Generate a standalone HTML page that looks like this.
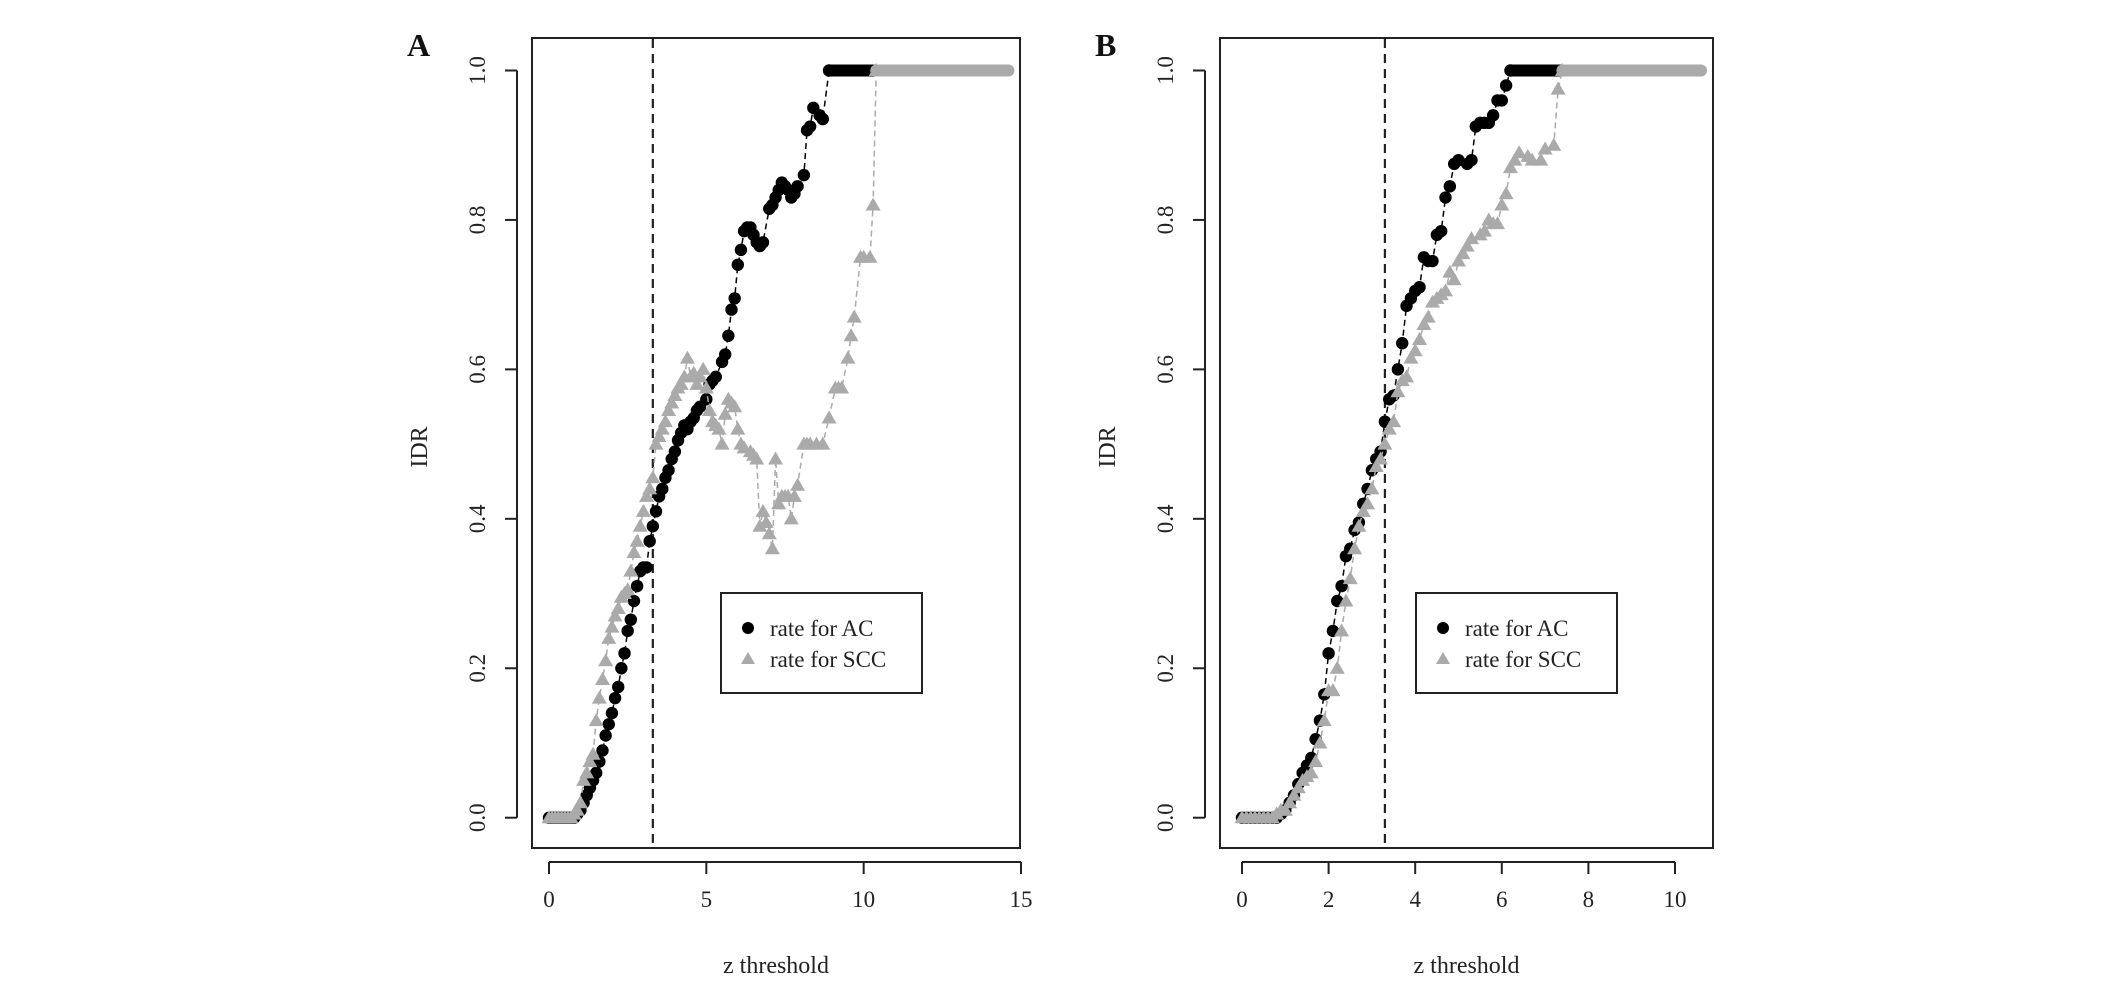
<!DOCTYPE html>
<html><head><meta charset="utf-8"><style>
html,body{margin:0;padding:0;background:#fff;}
svg{display:block;font-family:"Liberation Serif",serif;}
</style></head><body>
<svg id="c" width="2126" height="981" viewBox="0 0 2126 981"></svg>
<script>
const zA_AC=[0,0.1,0.2,0.3,0.4,0.5,0.6,0.7,0.8,0.9,1.0,1.1,1.2,1.3,1.4,1.5,1.6,1.7,1.8,1.9,2.0,2.1,2.2,2.3,2.4,2.5,2.6,2.7,2.8,2.9,3.0,3.1,3.2,3.3,3.4,3.5,3.6,3.7,3.8,3.9,4.0,4.1,4.2,4.3,4.4,4.5,4.6,4.7,4.8,5.0,5.1,5.2,5.3,5.5,5.6,5.7,5.8,5.9,6.0,6.1,6.2,6.3,6.4,6.5,6.6,6.7,6.8,7.0,7.1,7.2,7.3,7.4,7.5,7.6,7.7,7.8,7.9,8.1,8.2,8.3,8.4,8.6,8.7,8.9];
const yA_AC=[0,0,0,0,0,0,0,0,0,0.005,0.01,0.02,0.03,0.04,0.05,0.06,0.075,0.09,0.11,0.125,0.14,0.16,0.175,0.2,0.22,0.25,0.265,0.29,0.31,0.33,0.335,0.335,0.37,0.39,0.41,0.43,0.44,0.455,0.465,0.48,0.49,0.505,0.515,0.525,0.52,0.53,0.535,0.545,0.55,0.56,0.58,0.585,0.59,0.61,0.62,0.645,0.68,0.695,0.74,0.76,0.785,0.79,0.79,0.78,0.77,0.765,0.77,0.815,0.82,0.83,0.84,0.85,0.845,0.84,0.83,0.835,0.845,0.86,0.92,0.925,0.95,0.94,0.935,1.0];
const zA_SCC=[0,0.1,0.2,0.3,0.4,0.5,0.6,0.7,0.8,0.9,1.0,1.1,1.2,1.3,1.4,1.5,1.6,1.7,1.8,1.9,2.0,2.1,2.2,2.3,2.4,2.5,2.6,2.7,2.8,2.9,3.0,3.1,3.2,3.3,3.4,3.5,3.6,3.7,3.8,3.9,4.0,4.1,4.2,4.3,4.4,4.5,4.6,4.7,4.8,4.9,5.0,5.1,5.2,5.3,5.4,5.5,5.6,5.7,5.8,5.9,6.0,6.1,6.2,6.4,6.5,6.6,6.7,6.8,6.9,7.0,7.1,7.2,7.3,7.4,7.5,7.6,7.7,7.8,7.9,8.1,8.2,8.3,8.5,8.7,8.9,9.1,9.2,9.3,9.5,9.6,9.7,9.9,10.0,10.2,10.3,10.4];
const yA_SCC=[0,0,0,0,0,0,0,0,0.005,0.01,0.02,0.05,0.06,0.075,0.085,0.13,0.16,0.185,0.21,0.24,0.255,0.27,0.28,0.295,0.3,0.305,0.33,0.355,0.37,0.39,0.41,0.43,0.44,0.455,0.5,0.51,0.52,0.53,0.545,0.555,0.565,0.575,0.58,0.59,0.615,0.59,0.595,0.58,0.59,0.6,0.575,0.545,0.53,0.525,0.52,0.5,0.54,0.56,0.555,0.55,0.52,0.5,0.495,0.49,0.485,0.48,0.39,0.41,0.395,0.38,0.36,0.48,0.42,0.43,0.43,0.43,0.4,0.43,0.445,0.5,0.5,0.5,0.5,0.5,0.535,0.575,0.575,0.575,0.615,0.645,0.67,0.75,0.75,0.75,0.82,1.0];
const zB_AC=[0,0.1,0.2,0.3,0.4,0.5,0.6,0.7,0.8,0.9,1.0,1.1,1.2,1.3,1.4,1.5,1.6,1.7,1.8,1.9,2.0,2.1,2.2,2.3,2.4,2.5,2.6,2.7,2.8,2.9,3.0,3.1,3.2,3.3,3.4,3.5,3.6,3.7,3.8,3.9,4.0,4.1,4.2,4.3,4.4,4.5,4.6,4.7,4.8,4.9,5.0,5.2,5.3,5.4,5.5,5.6,5.7,5.8,5.9,6.0,6.1,6.2];
const yB_AC=[0,0,0,0,0,0,0,0,0,0.005,0.01,0.02,0.03,0.045,0.06,0.07,0.08,0.105,0.13,0.165,0.22,0.25,0.29,0.31,0.35,0.36,0.385,0.395,0.42,0.44,0.465,0.48,0.49,0.53,0.56,0.565,0.6,0.635,0.685,0.695,0.705,0.71,0.75,0.745,0.745,0.78,0.785,0.83,0.845,0.875,0.88,0.875,0.88,0.925,0.93,0.93,0.93,0.94,0.96,0.96,0.98,1.0];
const zB_SCC=[0,0.1,0.2,0.3,0.4,0.5,0.6,0.7,0.8,0.9,1.0,1.1,1.2,1.3,1.4,1.5,1.6,1.7,1.8,1.9,2.0,2.1,2.2,2.3,2.4,2.5,2.6,2.7,2.8,2.9,3.0,3.1,3.2,3.3,3.4,3.5,3.6,3.7,3.8,3.9,4.0,4.1,4.2,4.3,4.4,4.5,4.6,4.7,4.8,4.9,5.0,5.1,5.2,5.3,5.5,5.6,5.7,5.8,5.9,6.0,6.1,6.2,6.3,6.4,6.6,6.7,6.9,7.0,7.2,7.3,7.4];
const yB_SCC=[0,0,0,0,0,0,0,0,0.005,0.01,0.01,0.02,0.03,0.04,0.05,0.055,0.06,0.075,0.1,0.13,0.17,0.17,0.2,0.25,0.29,0.32,0.36,0.39,0.41,0.42,0.44,0.47,0.48,0.5,0.52,0.53,0.57,0.585,0.59,0.615,0.625,0.64,0.66,0.67,0.69,0.695,0.7,0.705,0.73,0.72,0.745,0.755,0.765,0.775,0.78,0.785,0.8,0.795,0.795,0.82,0.835,0.87,0.88,0.89,0.885,0.88,0.88,0.895,0.9,0.975,1.0];
// plateau ranges at IDR = 1.0: [dense-marker start, dense-marker end, thin-line end]
const plateauA_AC=[8.9,10.3,12.0];
const plateauA_SCC=[10.4,14.6,14.6];
const plateauB_AC=[6.2,7.4,9.3];
const plateauB_SCC=[7.4,10.6,10.6];
const ticksA_x=[0,5,10,15];
const ticksB_x=[0,2,4,6,8,10];
const ticks_y=[0,0.2,0.4,0.6,0.8,1.0];
const cutoffZ=3.3;

const svg=document.getElementById('c');
const NS='http://www.w3.org/2000/svg';
function mk(tag,attrs,parent){const e=document.createElementNS(NS,tag);for(const k in attrs)e.setAttribute(k,attrs[k]);(parent||svg).appendChild(e);return e;}

function panel(cfg){
  const g=mk('g',{});
  
  
  const xs=v=>cfg.x0+(v-cfg.xmin)*(cfg.x1-cfg.x0)/(cfg.xmax-cfg.xmin);
  const ys=v=>817.7-v*(817.7-70.5);
  const box=mk('rect',{x:cfg.bl,y:38,width:cfg.br-cfg.bl,height:810,fill:'none',stroke:'#222','stroke-width':2},g);
  
  
  const xa=mk('g',{},g);
  
  
  mk('line',{x1:xs(cfg.xt[0]),x2:xs(cfg.xt[cfg.xt.length-1]),y1:862,y2:862,stroke:'#222','stroke-width':2},xa);
  cfg.xt.forEach(t=>{
    mk('line',{x1:xs(t),x2:xs(t),y1:862,y2:874,stroke:'#222','stroke-width':2},xa);
    const tx=mk('text',{x:xs(t),y:907,'font-size':23,'text-anchor':'middle',fill:'#222'},xa);
    tx.textContent=t;
    
    
  });
  const xl=mk('text',{x:(cfg.bl+cfg.br)/2,y:973,'font-size':24,'text-anchor':'middle',fill:'#222'},g);
  xl.textContent='z threshold';
  
  
  const ya=mk('g',{},g);
  
  
  const ax=cfg.bl-15;
  mk('line',{x1:ax,x2:ax,y1:ys(0),y2:ys(1),stroke:'#222','stroke-width':2},ya);
  ticks_y.forEach(t=>{
    mk('line',{x1:ax-12,x2:ax,y1:ys(t),y2:ys(t),stroke:'#222','stroke-width':2},ya);
    const tx=mk('text',{x:ax-32,y:ys(t),'font-size':23,'text-anchor':'middle',fill:'#222',transform:`rotate(-90 ${ax-32} ${ys(t)})`},ya);
    tx.textContent=t.toFixed(1);
    
    
  });
  const yl=mk('text',{x:cfg.bl-105,y:447,'font-size':24,'text-anchor':'middle',fill:'#222',transform:`rotate(-90 ${cfg.bl-105} 447)`},g);
  yl.textContent='IDR';
  
  
  const lt=mk('text',{x:cfg.bl-125,y:56,'font-size':32,'font-weight':'bold',fill:'#111'},g);
  lt.textContent=cfg.letter;
  
  
  const cl=mk('line',{x1:xs(cutoffZ),x2:xs(cutoffZ),y1:39,y2:847,stroke:'#222','stroke-width':2.2,'stroke-dasharray':'9,6'},g);
  
  
  function series(zs,vs,pl,color,shape,name){
    const sg=mk('g',{},g);
    
    
    mk('polyline',{points:zs.map((z,i)=>xs(z)+','+ys(vs[i])).join(' '),fill:'none',stroke:color,'stroke-width':1.5,'stroke-dasharray':'6,4'},sg);
    mk('line',{x1:xs(pl[0]),x2:xs(pl[2]),y1:ys(1),y2:ys(1),stroke:color,'stroke-width':2},sg);
    mk('line',{x1:xs(pl[0]),x2:xs(pl[1]),y1:ys(1),y2:ys(1),stroke:color,'stroke-width':12,'stroke-linecap':'round'},sg);
    zs.forEach((z,i)=>{
      const x=xs(z),y=ys(vs[i]);
      let m;
      if(shape==='c') m=mk('circle',{cx:x,cy:y,r:6.2,fill:color},sg);
      else m=mk('polygon',{points:`${x},${y-7.5} ${x-7.5},${y+5.5} ${x+7.5},${y+5.5}`,fill:color},sg);
      
      
    });
  }
  series(cfg.az,cfg.av,cfg.ap,'#000000','c','ac-series');
  series(cfg.sz,cfg.sv,cfg.sp,'#aaaaaa','t','scc-series');
  const lg=mk('g',{},g);
  
  
  mk('rect',{x:cfg.lx,y:593,width:201,height:100,fill:'#fff',stroke:'#222','stroke-width':2},lg);
  mk('circle',{cx:cfg.lx+27,cy:628,r:6,fill:'#000'},lg);
  const c=cfg.lx+27;
  mk('polygon',{points:`${c},${652} ${c-7},${664} ${c+7},${664}`,fill:'#aaa'},lg);
  const t1=mk('text',{x:cfg.lx+49,y:636,'font-size':23,fill:'#222'},lg);t1.textContent='rate for AC';
  
  
  const t2=mk('text',{x:cfg.lx+49,y:667,'font-size':23,fill:'#222'},lg);t2.textContent='rate for SCC';
  
  
}
panel({letter:'A',bl:532,br:1020,x0:549,x1:1021,xmin:0,xmax:15,xt:ticksA_x,
  az:zA_AC,av:yA_AC,ap:plateauA_AC,sz:zA_SCC,sv:yA_SCC,sp:plateauA_SCC,lx:721});
panel({letter:'B',bl:1220,br:1713,x0:1242,x1:1675,xmin:0,xmax:10,xt:ticksB_x,
  az:zB_AC,av:yB_AC,ap:plateauB_AC,sz:zB_SCC,sv:yB_SCC,sp:plateauB_SCC,lx:1416});
</script>
</body></html>
